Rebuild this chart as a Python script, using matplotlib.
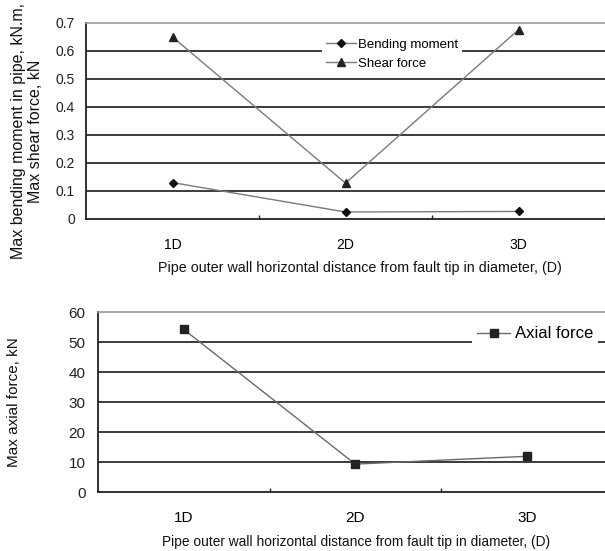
import numpy as np
import matplotlib
matplotlib.use("Agg")
import matplotlib.pyplot as plt

plt.rcParams['font.family'] = ['Liberation Sans', 'DejaVu Sans']

categories = ['1D', '2D', '3D']
bending_moment = [0.13, 0.025, 0.027]
shear_force = [0.65, 0.128, 0.676]
axial_force = [54.2, 9.3, 11.9]

top_yticks = [0, 0.1, 0.2, 0.3, 0.4, 0.5, 0.6, 0.7]
top_ylabels = ['0', '0.1', '0.2', '0.3', '0.4', '0.5', '0.6', '0.7']
bottom_yticks = [0, 10, 20, 30, 40, 50, 60]

xlabel = 'Pipe outer wall horizontal distance from fault tip in diameter, (D)'

W, H = 605, 551
fig = plt.figure(figsize=(W / 100, H / 100), dpi=100)


def style_axes(ax, yticks, ylabels, tick_size, ypad, xpad):
    x = np.arange(1, len(categories) + 1)
    ax.set_xlim(0.5, 4.5)
    ax.set_xticks(x)
    ax.set_xticklabels(categories, fontsize=tick_size)
    ax.set_xticks([1.5, 2.5, 3.5], minor=True)
    ax.tick_params(axis='x', which='major', length=0, pad=xpad)
    ax.tick_params(axis='x', which='minor', direction='in', length=3, width=1, color='#222222')
    ax.set_yticks(yticks)
    ax.set_yticklabels(ylabels, fontsize=tick_size)
    ax.tick_params(axis='y', length=0, pad=ypad, colors='#222222')
    ax.set_ylim(yticks[0], yticks[-1])
    for v in yticks[1:-1]:
        ax.axhline(v, color='#1a1a1a', lw=1.2, zorder=1)
    ax.spines['right'].set_visible(False)
    ax.spines['top'].set_color('#9a9a9a')
    ax.spines['top'].set_linewidth(1.2)
    for s in ['left', 'bottom']:
        ax.spines[s].set_color('#222222')
        ax.spines[s].set_linewidth(1.3)
    return x


# top chart: bending moment and shear force
ax1 = fig.add_axes([86 / W, 1 - 219 / H, 4 * 173 / W, 196 / H])
x = style_axes(ax1, top_yticks, top_ylabels, 10, 8, 14)
ax1.plot(x, bending_moment, color='#7a7a7a', lw=1.0, marker='D', ms=4.5,
         mfc='#111111', mec='#111111', label='Bending moment', zorder=3)
ax1.plot(x, shear_force, color='#7a7a7a', lw=1.0, marker='^', ms=5.5,
         mfc='#222222', mec='#222222', label='Shear force', zorder=3)
leg1 = ax1.legend(loc='center', bbox_to_anchor=(392 / W, 1 - 54 / H),
                  bbox_transform=fig.transFigure, fontsize=9.5, frameon=True,
                  handlelength=2.3, handletextpad=0.15, labelspacing=0.5,
                  borderpad=0.3, fancybox=False)
leg1.get_frame().set_facecolor('white')
leg1.get_frame().set_edgecolor('none')
leg1.get_frame().set_alpha(1)
fig.text(360 / W, 1 - 268 / H, xlabel, fontsize=10.3, ha='center', va='center', color='#111111')
fig.text(27 / W, 1 - 131 / H, 'Max bending moment in pipe, kN.m,\nMax shear force, kN',
         fontsize=11.5, rotation=90, ha='center', va='center', linespacing=1.1,
         color='#111111')

# bottom chart: axial force
ax2 = fig.add_axes([98 / W, 1 - 492 / H, 4 * 171.5 / W, 180 / H])
x = style_axes(ax2, bottom_yticks, [str(v) for v in bottom_yticks], 11, 9, 14)
ax2.plot(x, axial_force, color='#6a6a6a', lw=1.0, marker='s', ms=5.5,
         mfc='#222222', mec='#222222', label='Axial force', zorder=3)
leg2 = ax2.legend(loc='center', bbox_to_anchor=(535 / W, 1 - 334 / H),
                  bbox_transform=fig.transFigure, fontsize=12, frameon=True,
                  handlelength=2.0, handletextpad=0.25, borderpad=0.3,
                  fancybox=False)
leg2.get_frame().set_facecolor('white')
leg2.get_frame().set_edgecolor('none')
leg2.get_frame().set_alpha(1)
fig.text(356 / W, 1 - 542 / H, xlabel, fontsize=9.9, ha='center', va='center', color='#111111')
fig.text(14 / W, 1 - 402 / H, 'Max axial force, kN', fontsize=11, rotation=90,
         ha='center', va='center', color='#111111')

fig.savefig('out.png', dpi=100)
